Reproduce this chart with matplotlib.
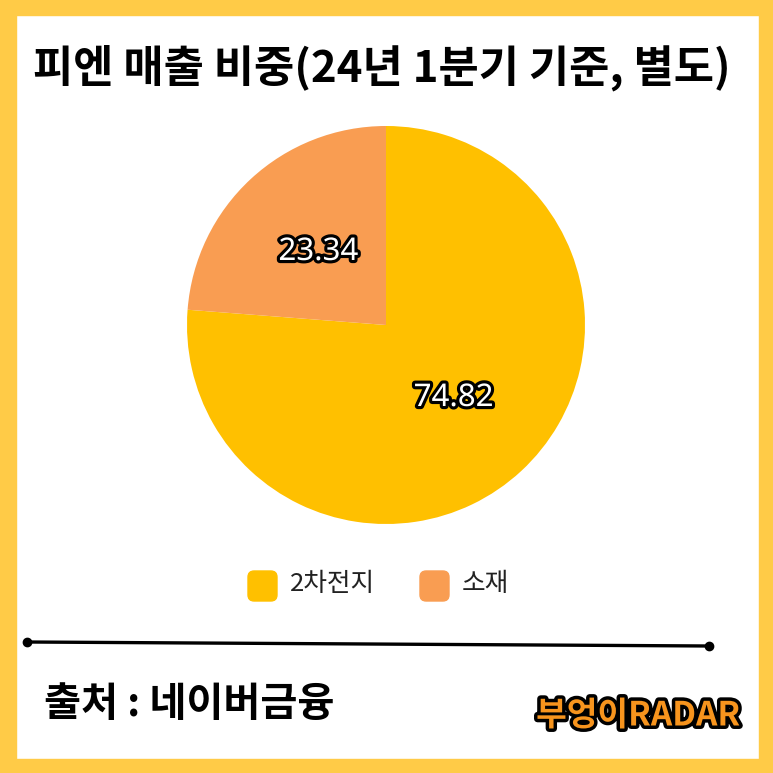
import matplotlib
matplotlib.use("Agg")
import matplotlib.pyplot as plt
import matplotlib.patheffects as pe
from matplotlib.patches import Rectangle, FancyBboxPatch

plt.rcParams['font.family'] = ['Noto Sans CJK KR', 'DejaVu Sans']

title = "피엔 매출 비중(24년 1분기 기준, 별도)"
categories = ["2차전지", "소재"]
values = [74.82, 23.34]
colors = ["#FFC000", "#F99D52"]
source = "출처 : 네이버금융"
brand = "부엉이RADAR"

W = H = 773
fig = plt.figure(figsize=(W / 100, H / 100), dpi=100)
fig.patch.set_facecolor("white")

def fx(x):
    return x / W

def fy(y):
    return 1 - y / H

# border
border = "#FFCB47"
fig.patches.append(Rectangle((0, 0), 1, fy(759), transform=fig.transFigure, color=border, zorder=0))
fig.patches.append(Rectangle((0, fy(15)), 1, 15 / H, transform=fig.transFigure, color=border, zorder=0))
fig.patches.append(Rectangle((0, 0), fx(16), 1, transform=fig.transFigure, color=border, zorder=0))
fig.patches.append(Rectangle((fx(759), 0), 1 - fx(759), 1, transform=fig.transFigure, color=border, zorder=0))

# title
fig.text(fx(33), fy(68), title, fontsize=31.5, fontweight='black', color='black',
         ha='left', va='center')

# pie
cx, cy, r = 386, 325, 199
ax = fig.add_axes([fx(cx - r), fy(cy + r), 2 * r / W, 2 * r / H])
wedges, texts, autotexts = ax.pie(values, colors=colors, startangle=90, counterclock=False,
                                  autopct=lambda p: "", labeldistance=None, pctdistance=0.5,
                                  wedgeprops=dict(linewidth=0))
for at, v in zip(autotexts, values):
    at.set_text(f"{v:.2f}")
    at.set_fontsize(22.5)
    at.set_color('white')
    at.set_family(['Noto Sans', 'DejaVu Sans'])
    at.set_path_effects([pe.withStroke(linewidth=4.5, foreground='black')])
ax.set_xlim(-1, 1)
ax.set_ylim(-1, 1)
ax.set_aspect('equal')
ax.axis('off')

# legend
leg_x = [248, 420]
for xk, cat, col in zip(leg_x, categories, colors):
    fig.patches.append(FancyBboxPatch((fx(xk), fy(601)), 29 / W, 30 / H,
                                      boxstyle="round,pad=0,rounding_size=0.008",
                                      transform=fig.transFigure, color=col, zorder=2))
    fig.text(fx(xk + 42), fy(584), cat, fontsize=18.5, color='#222222', ha='left', va='center')

# separator line
fig.lines.append(plt.Line2D([fx(27), fx(709)], [fy(642), fy(646)], transform=fig.transFigure,
                            color='black', linewidth=2.4, marker='o', markersize=6,
                            markevery=[0, 1]))

# footer
fig.text(fx(44), fy(705), source, fontsize=29, fontweight='black', color='black',
         ha='left', va='center')
fig.text(fx(740), fy(716), brand, fontsize=24, fontweight='black', color='#F7941D',
         ha='right', va='center',
         path_effects=[pe.withStroke(linewidth=5, foreground='black')])

fig.savefig("out.png", dpi=100, facecolor='white')
